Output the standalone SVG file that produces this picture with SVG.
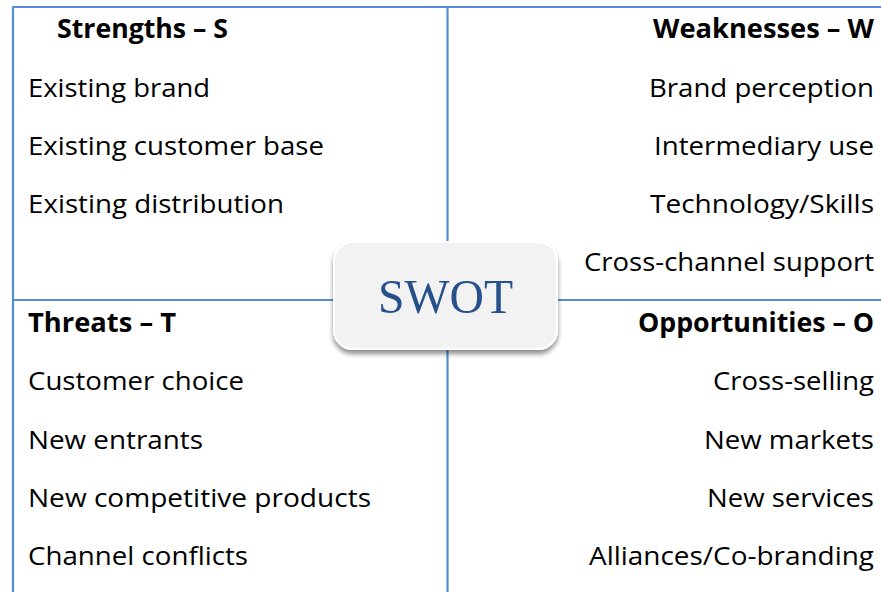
<svg xmlns="http://www.w3.org/2000/svg" width="881" height="592" viewBox="0 0 881 592">
  <defs>
    <style>
      .grid { stroke: #558ed5; stroke-width: 2.2; fill: none; }
      .item { font-family: "Open Sans", "Noto Sans", "Liberation Sans", sans-serif; font-size: 26px; fill: #000; }
      .head { font-family: "Open Sans", "Noto Sans", "Liberation Sans", sans-serif; font-size: 26px; font-weight: bold; fill: #000; }
      .end { text-anchor: end; }
      .title { font-family: "Liberation Serif", "DejaVu Serif", serif; font-size: 49px; fill: #265089; text-anchor: middle; }
    </style>
    <filter id="shadow" x="-10%" y="-10%" width="120%" height="130%">
      <feGaussianBlur in="SourceAlpha" stdDeviation="2.5"/>
      <feOffset dx="0" dy="4" result="b"/>
      <feComponentTransfer><feFuncA type="linear" slope="0.45"/></feComponentTransfer>
      <feMerge><feMergeNode/><feMergeNode in="SourceGraphic"/></feMerge>
    </filter>
  </defs>
  <rect width="881" height="592" fill="#ffffff"/>

  <!-- quadrant grid -->
  <g id="connectors">
    <path class="grid" d="M13 592 V7 H881"/>
    <path class="grid" d="M447.5 7 V592"/>
    <path class="grid" d="M13 300 H881"/>
  </g>

  <g id="strengths">
    <text class="head" x="57" y="38" textLength="171" lengthAdjust="spacingAndGlyphs">Strengths – S</text>
    <text class="item" x="28" y="97" textLength="182" lengthAdjust="spacingAndGlyphs">Existing brand</text>
    <text class="item" x="28" y="155" textLength="296" lengthAdjust="spacingAndGlyphs">Existing customer base</text>
    <text class="item" x="28" y="213" textLength="256" lengthAdjust="spacingAndGlyphs">Existing distribution</text>
  </g>

  <g id="weaknesses">
    <text class="head end" x="874" y="38" textLength="221" lengthAdjust="spacingAndGlyphs">Weaknesses – W</text>
    <text class="item end" x="874" y="97" textLength="225" lengthAdjust="spacingAndGlyphs">Brand perception</text>
    <text class="item end" x="874" y="155" textLength="220" lengthAdjust="spacingAndGlyphs">Intermediary use</text>
    <text class="item end" x="874" y="213" textLength="224" lengthAdjust="spacingAndGlyphs">Technology/Skills</text>
    <text class="item end" x="874" y="271" textLength="290" lengthAdjust="spacingAndGlyphs">Cross-channel support</text>
  </g>

  <g id="threats">
    <text class="head" x="28" y="332" textLength="148" lengthAdjust="spacingAndGlyphs">Threats – T</text>
    <text class="item" x="28" y="390" textLength="216" lengthAdjust="spacingAndGlyphs">Customer choice</text>
    <text class="item" x="28" y="449" textLength="175" lengthAdjust="spacingAndGlyphs">New entrants</text>
    <text class="item" x="28" y="507" textLength="343" lengthAdjust="spacingAndGlyphs">New competitive products</text>
    <text class="item" x="28" y="565" textLength="220" lengthAdjust="spacingAndGlyphs">Channel conflicts</text>
  </g>

  <g id="opportunities">
    <text class="head end" x="874" y="332" textLength="236" lengthAdjust="spacingAndGlyphs">Opportunities – O</text>
    <text class="item end" x="874" y="390" textLength="161" lengthAdjust="spacingAndGlyphs">Cross-selling</text>
    <text class="item end" x="874" y="449" textLength="170" lengthAdjust="spacingAndGlyphs">New markets</text>
    <text class="item end" x="874" y="507" textLength="167" lengthAdjust="spacingAndGlyphs">New services</text>
    <text class="item end" x="874" y="565" textLength="285" lengthAdjust="spacingAndGlyphs">Alliances/Co-branding</text>
  </g>

  <g id="swot">
    <rect x="334" y="242" width="223" height="107" rx="19" ry="19" fill="#f2f2f2" stroke="#ffffff" stroke-width="2" filter="url(#shadow)"/>
    <text class="title" x="445.5" y="313" textLength="135" lengthAdjust="spacingAndGlyphs">SWOT</text>
  </g>
</svg>
